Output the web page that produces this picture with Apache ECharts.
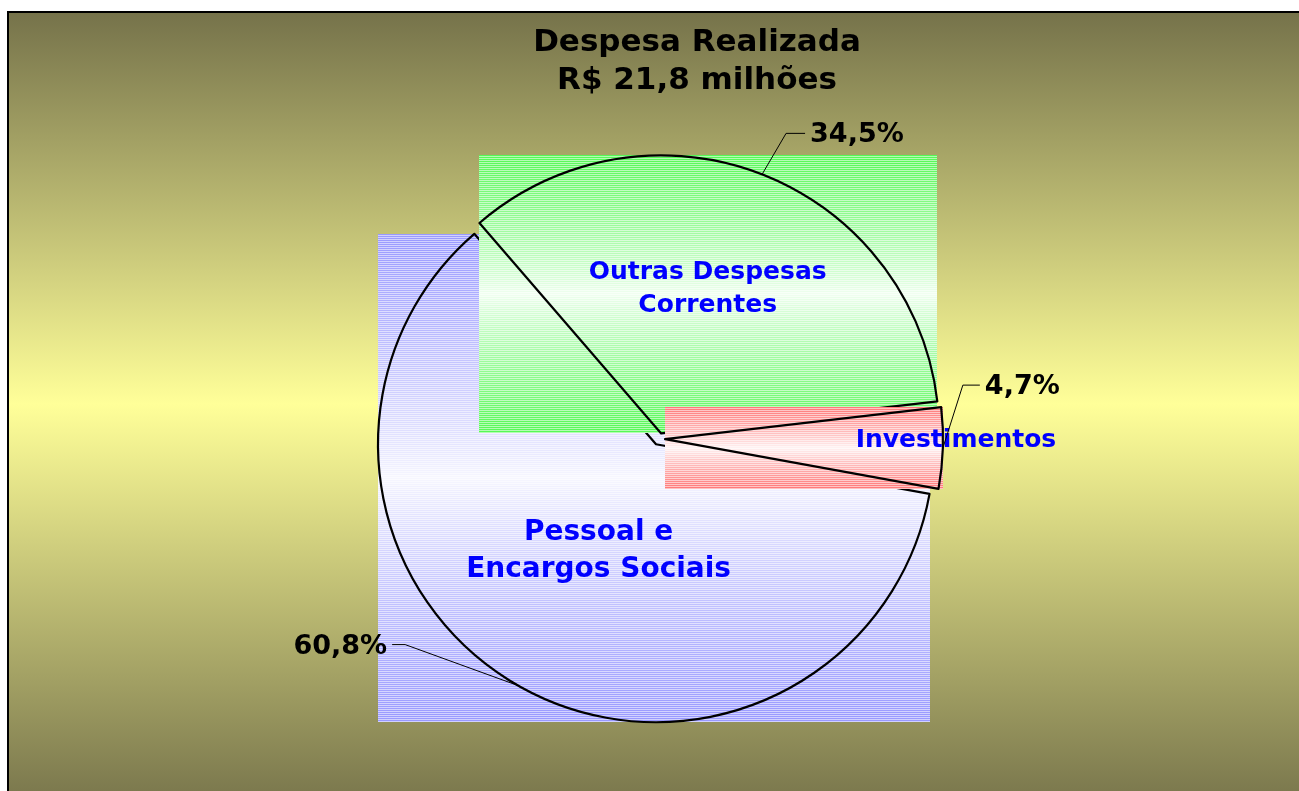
<!DOCTYPE html>
<html>
<head>
<meta charset="utf-8">
<title>Despesa Realizada</title>
<script src="https://cdn.jsdelivr.net/npm/echarts@6/dist/echarts.min.js"></script>
<style>
html, body { margin: 0; padding: 0; background: #fff; }
#chart { width: 1299px; height: 791px; }
</style>
</head>
<body>
<div id="chart"></div>
<script>
// dados
const categories = ['Pessoal e\nEncargos Sociais', 'Outras Despesas\nCorrentes', 'Investimentos'];
const shares = [60.8, 34.5, 4.7];
const shareLabels = ['60,8%', '34,5%', '4,7%'];
const titleLines = ['Despesa Realizada', 'R$ 21,8 milhões'];
const sliceColors = ['#9999ff', '#55f855', '#ff7777'];

const PIE_CENTER = [659, 439];
const PIE_RADIUS = 278;
const PIE_EXPLODE = 6;
const START_ANGLE = 349.7;
const FONT = 'DejaVu Sans, Verdana, sans-serif';

const chart = echarts.init(document.getElementById('chart'));

// deslocamento de cada fatia (explodida) a partir do ângulo médio
const total = shares.reduce((a, b) => a + b, 0);
function sliceCenter(idx) {
  let before = 0;
  for (let i = 0; i < idx; i++) before += shares[i];
  const mid = (START_ANGLE - 360 * (before + shares[idx] / 2) / total) * Math.PI / 180;
  return [PIE_CENTER[0] + Math.cos(mid) * PIE_EXPLODE, PIE_CENTER[1] - Math.sin(mid) * PIE_EXPLODE];
}

const innerLabelStyle = [
  { fontSize: 28, lineHeight: 37 },
  { fontSize: 25, lineHeight: 33 },
  { fontSize: 25, lineHeight: 30 },
];
const innerLabelNudge = [[13, -16], [-5, -12], [149, -3]];

// cada fatia numa série própria, para intercalar com o seu retângulo de fundo
function sliceSeries(idx) {
  const nudge = innerLabelNudge[idx];
  return {
    type: 'pie',
    z: 2 + idx * 2,
    center: sliceCenter(idx),
    radius: PIE_RADIUS,
    startAngle: START_ANGLE,
    clockwise: true,
    avoidLabelOverlap: false,
    silent: true,
    emphasis: { disabled: true },
    labelLayout: function (p) {
      const r = p.labelRect;
      return {
        x: r.x + r.width / 2 + nudge[0],
        y: r.y + r.height / 2 + nudge[1],
        align: 'center',
        verticalAlign: 'middle',
      };
    },
    data: shares.map((v, i) => ({
      name: categories[i],
      value: v,
      itemStyle: i === idx
        ? { color: 'rgba(0,0,0,0)', borderColor: '#000', borderWidth: 2.2 }
        : { color: 'rgba(0,0,0,0)', borderWidth: 0 },
      label: i === idx
        ? {
            show: true,
            position: 'inside',
            formatter: '{b}',
            color: '#0000ff',
            fontFamily: FONT,
            fontWeight: 'bold',
            fontSize: innerLabelStyle[i].fontSize,
            lineHeight: innerLabelStyle[i].lineHeight,
          }
        : { show: false },
      labelLine: { show: false },
    })),
  };
}

const leaderBends = [[-113, -41, -13], [24, -41, 19], [20, -63, 17]];

const percentSeries = {
  type: 'pie',
  z: 8,
  center: PIE_CENTER,
  radius: PIE_RADIUS + PIE_EXPLODE,
  startAngle: START_ANGLE,
  clockwise: true,
  avoidLabelOverlap: false,
  silent: true,
  emphasis: { disabled: true },
  itemStyle: { color: 'rgba(0,0,0,0)', borderWidth: 0 },
  label: {
    show: true,
    position: 'outside',
    formatter: (p) => shareLabels[p.dataIndex],
    color: '#000',
    fontFamily: FONT,
    fontWeight: 'bold',
    fontSize: 27,
  },
  labelLine: { show: true, lineStyle: { color: '#000', width: 1 } },
  labelLayout: function (p) {
    const pts = p.labelLinePoints;
    if (!pts) return {};
    const bend = leaderBends[p.dataIndex];
    const a = pts[0];
    const b = [a[0] + bend[0], a[1] + bend[1]];
    const c = [b[0] + bend[2], b[1]];
    return {
      x: c[0] + (bend[2] < 0 ? -5 : 5),
      y: c[1] + 2,
      align: bend[2] < 0 ? 'right' : 'left',
      verticalAlign: 'middle',
      labelLinePoints: [a, b, c],
    };
  },
  data: shares.map((v, i) => ({ name: categories[i], value: v })),
};

const background = {
  type: 'rect',
  id: 'bg',
  z: 0,
  shape: { x: 8, y: 12, width: 1300, height: 800 },
  style: {
    fill: new echarts.graphic.LinearGradient(0, 0, 0, 1, [
      { offset: 0, color: '#75724a' },
      { offset: 0.49, color: '#ffff99' },
      { offset: 1, color: '#75724a' },
    ]),
    stroke: '#000',
    lineWidth: 2,
  },
};

chart.setOption({
  animation: false,
  backgroundColor: '#fff',
  title: {
    text: titleLines.join('\n'),
    left: 692,
    top: 19,
    textAlign: 'center',
    textStyle: { fontFamily: FONT, fontWeight: 'bold', fontSize: 31, lineHeight: 38, color: '#000' },
  },
  graphic: { elements: [background] },
  series: [sliceSeries(0), sliceSeries(1), sliceSeries(2), percentSeries],
});

// retângulo listrado (degradê cor → branco → cor) atrás de cada fatia
function stripeCanvas(w, h, color) {
  const c = document.createElement('canvas');
  c.width = w; c.height = h;
  const ctx = c.getContext('2d');
  ctx.fillStyle = '#fff';
  ctx.fillRect(0, 0, w, h);
  const rgb = echarts.color.parse(color);
  for (let y = 0; y < h; y++) {
    const t = Math.abs(y + 0.5 - h / 2) / (h / 2);
    let a = 0.08 + 0.92 * Math.pow(t, 0.85);
    if (y % 2) a *= 0.45;
    ctx.fillStyle = 'rgba(' + rgb[0] + ',' + rgb[1] + ',' + rgb[2] + ',' + a.toFixed(3) + ')';
    ctx.fillRect(0, y, w, 1);
  }
  return c;
}

function sectorBox(l) {
  const a0 = Math.min(l.startAngle, l.endAngle);
  const a1 = Math.max(l.startAngle, l.endAngle);
  const xs = [l.cx], ys = [l.cy];
  const add = (a) => { xs.push(l.cx + l.r * Math.cos(a)); ys.push(l.cy + l.r * Math.sin(a)); };
  add(a0); add(a1);
  for (let k = Math.ceil(a0 / (Math.PI / 2)); k * Math.PI / 2 <= a1; k++) add(k * Math.PI / 2);
  const x = Math.min(...xs), y = Math.min(...ys);
  return { x: x, y: y, w: Math.max(...xs) - x, h: Math.max(...ys) - y };
}

function sliceLayout(idx) {
  try {
    return chart.getModel().getSeriesByIndex(idx).getData().getItemLayout(idx);
  } catch (e) {
    let before = 0;
    for (let i = 0; i < idx; i++) before += shares[i];
    const s = -START_ANGLE * Math.PI / 180 + 2 * Math.PI * before / total;
    const c = sliceCenter(idx);
    return { cx: c[0], cy: c[1], r: PIE_RADIUS, startAngle: s, endAngle: s + 2 * Math.PI * shares[idx] / total };
  }
}

const boxes = shares.map((v, i) => {
  const b = sectorBox(sliceLayout(i));
  const w = Math.round(b.w), h = Math.round(b.h);
  return {
    type: 'image',
    id: 'box' + i,
    z: 1 + i * 2,
    x: Math.round(b.x),
    y: Math.round(b.y),
    style: { image: stripeCanvas(w, h, sliceColors[i]), x: 0, y: 0, width: w, height: h },
  };
});

chart.setOption({ graphic: { elements: [background].concat(boxes) } });
</script>
</body>
</html>
